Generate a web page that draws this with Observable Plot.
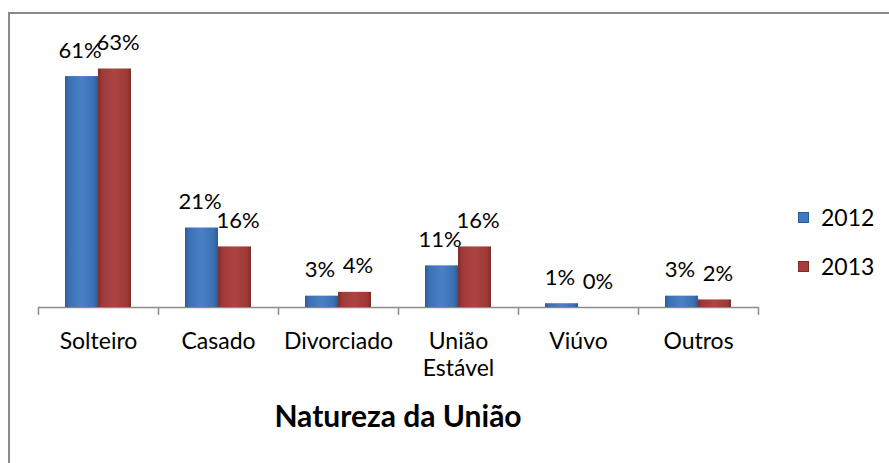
<!DOCTYPE html>
<html>
<head>
<meta charset="utf-8">
<script src="https://cdn.jsdelivr.net/npm/d3@7"></script>
<script src="https://cdn.jsdelivr.net/npm/@observablehq/plot@0.6"></script>
<style>
  html, body { margin: 0; padding: 0; background: #fff; }
  #wrap { position: relative; width: 889px; height: 463px; overflow: hidden; font-family: Lato, "Open Sans", sans-serif; }
  #frame { position: absolute; left: 8px; top: 12px; width: 1000px; height: 1000px; border-top: 2px solid #8a8a8a; border-left: 2px solid #8a8a8a; box-sizing: border-box; }
  #chart { position: absolute; left: 0; top: 0; }
  #title { position: absolute; left: 38px; width: 720px; top: 396px; text-align: center; font-weight: bold; font-size: 30px; line-height: 38px; color: #000; }
  #legend { position: absolute; left: 798px; top: 202px; font-size: 23px; color: #000; }
  .li { display: flex; align-items: center; height: 30px; margin-bottom: 19px; }
  .sw { width: 11px; height: 11px; margin-right: 12px; box-sizing: border-box; }
</style>
</head>
<body>
<div id="wrap">
  <div id="frame"></div>
  <div id="chart"></div>
  <div id="title">Natureza da União</div>
  <div id="legend"></div>
</div>
<script>
const categories = ["Solteiro", "Casado", "Divorciado", "União Estável", "Viúvo", "Outros"];
const years = ["2012", "2013"];
const values2012 = [61, 21, 3, 11, 1, 3];
const values2013 = [63, 16, 4, 16, 0, 2];
const colors = ["#4079bd", "#a83d3a"];

const data = [];
categories.forEach((c, i) => {
  data.push({category: c, year: years[0], value: values2012[i]});
  data.push({category: c, year: years[1], value: values2013[i]});
});

const labelOpts = {fx: "category", x: "year", y: "value", text: d => d.value + "%", lineAnchor: "bottom", dy: -19, fontSize: 22, fill: "#000"};

const plot = Plot.plot({
  width: 889,
  height: 463,
  marginLeft: 38,
  marginRight: 131,
  marginTop: 42,
  marginBottom: 156,
  style: {fontFamily: "Lato, 'Open Sans', sans-serif", background: "transparent", overflow: "visible"},
  fx: {domain: categories, padding: 0, label: null},
  x: {domain: years, paddingInner: 0, paddingOuter: 0.765, axis: null},
  y: {domain: [0, 70], axis: null},
  color: {domain: years, range: ["url(#g2012)", "url(#g2013)"]},
  marks: [
    Plot.ruleY([0], {stroke: "#8c8c8c", strokeWidth: 1.5}),
    Plot.barY(data, {fx: "category", x: "year", y: "value", fill: "year", filter: d => d.value > 0, inset: 0, style: "filter:url(#shadow)"}),
    Plot.text(data, {...labelOpts, filter: d => d.year === years[0], dx: -2}),
    Plot.text(data, {...labelOpts, filter: d => d.year === years[1], dx: 3}),
    Plot.axisFx({anchor: "bottom", tickSize: 8, tickPadding: 0, text: null, dx: -60, stroke: "#8c8c8c", strokeWidth: 1.5}),
    Plot.axisFx({anchor: "bottom", ticks: [categories[categories.length - 1]], tickSize: 8, text: null, dx: 60, stroke: "#8c8c8c", strokeWidth: 1.5}),
    Plot.axisFx({anchor: "bottom", tickSize: 0, tickPadding: 22, fontSize: 23, fill: "#000", lineHeight: 1.18,
      tickFormat: d => d === "União Estável" ? "União\nEstável" : d, label: null})
  ]
});

const svg = d3.select(plot);
const defs = svg.insert("defs", ":first-child");
function grad(id, edge, mid, light) {
  const g = defs.append("linearGradient").attr("id", id).attr("x1", "0").attr("x2", "1").attr("y1", "0").attr("y2", "0");
  g.append("stop").attr("offset", "0%").attr("stop-color", edge);
  g.append("stop").attr("offset", "12%").attr("stop-color", mid);
  g.append("stop").attr("offset", "50%").attr("stop-color", light);
  g.append("stop").attr("offset", "88%").attr("stop-color", mid);
  g.append("stop").attr("offset", "100%").attr("stop-color", edge);
}
grad("g2012", "#2c5a94", "#3a6fb3", "#4a80c4");
grad("g2013", "#7e2c2a", "#9d3a37", "#ac4442");
const f = defs.append("filter").attr("id", "shadow").attr("x", "-20%").attr("y", "-20%").attr("width", "150%").attr("height", "150%");
f.append("feDropShadow").attr("dx", 2).attr("dy", 2).attr("stdDeviation", 1.5).attr("flood-color", "#000").attr("flood-opacity", 0.3);

document.getElementById("chart").appendChild(plot);

const legend = document.getElementById("legend");
years.forEach((y, i) => {
  const row = document.createElement("div");
  row.className = "li";
  const sw = document.createElement("div");
  sw.className = "sw";
  sw.style.background = colors[i];
  sw.style.border = "1px solid " + (i === 0 ? "#2c5a94" : "#7e2c2a");
  const t = document.createElement("span");
  t.textContent = y;
  row.appendChild(sw);
  row.appendChild(t);
  legend.appendChild(row);
});
</script>
</body>
</html>
